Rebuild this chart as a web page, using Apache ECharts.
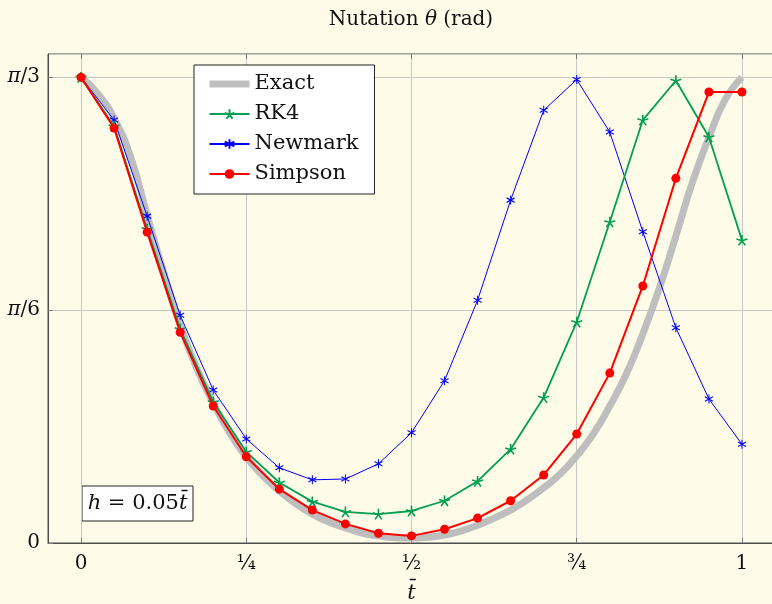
<!DOCTYPE html>
<html>
<head>
<meta charset="utf-8">
<script src="https://cdn.jsdelivr.net/npm/echarts@6/dist/echarts.min.js"></script>
<style>
  html, body { margin: 0; padding: 0; background: #fefbe8; }
  #chart { width: 772px; height: 604px; }
</style>
</head>
<body>
<div id="chart"></div>
<script>
// time steps, h = 0.05
var tSteps = [0, 0.05, 0.1, 0.15, 0.2, 0.25, 0.3, 0.35, 0.4, 0.45, 0.5,
              0.55, 0.6, 0.65, 0.7, 0.75, 0.8, 0.85, 0.9, 0.95, 1];
// exact solution read at finer steps
var tFine = [0, 0.025, 0.05, 0.075, 0.1, 0.125, 0.15, 0.175, 0.2, 0.225, 0.25,
             0.275, 0.3, 0.325, 0.35, 0.375, 0.4, 0.425, 0.45, 0.475, 0.5,
             0.525, 0.55, 0.575, 0.6, 0.625, 0.65, 0.675, 0.7, 0.725, 0.75,
             0.775, 0.8, 0.825, 0.85, 0.875, 0.9, 0.925, 0.95, 0.975, 1];
var exactVals = [1.047, 1.011, 0.955, 0.868, 0.737, 0.608, 0.490, 0.393, 0.315, 0.247, 0.193,
                 0.151, 0.117, 0.088, 0.065, 0.047, 0.034, 0.022, 0.016, 0.012, 0.011,
                 0.013, 0.018, 0.027, 0.040, 0.056, 0.074, 0.097, 0.124, 0.155, 0.196,
                 0.245, 0.308, 0.380, 0.470, 0.573, 0.690, 0.811, 0.912, 0.998, 1.047];
var rk4Vals = [1.047, 0.937, 0.706, 0.481, 0.317, 0.205, 0.136, 0.093, 0.070, 0.065, 0.072,
               0.095, 0.139, 0.211, 0.327, 0.497, 0.722, 0.951, 1.040, 0.913, 0.681];
var newmarkVals = [1.047, 0.951, 0.735, 0.512, 0.344, 0.234, 0.169, 0.142, 0.144, 0.178, 0.248,
                   0.365, 0.546, 0.771, 0.973, 1.042, 0.924, 0.700, 0.484, 0.324, 0.222];
var simpsonVals = [1.047, 0.933, 0.699, 0.474, 0.308, 0.194, 0.121, 0.074, 0.043, 0.022, 0.016,
                   0.031, 0.056, 0.095, 0.153, 0.245, 0.382, 0.578, 0.820, 1.014, 1.014];

var xTickValues = [0, 0.25, 0.5, 0.75, 1];
var xTickLabels = ['0', '¼', '½', '¾', '1'];
var yTickLabels = ['0', '{i|π}/6', '{i|π}/3'];

var FONT = 'DejaVu Serif';

function pairs(xs, ys) {
    return xs.map(function (x, i) { return [x, ys[i]]; });
}

// 5-ray star and 6-ray asterisk drawn as strokes
var starPath = 'path://M0 0L0 -1M0 0L0.951 -0.309M0 0L0.588 0.809M0 0L-0.588 0.809M0 0L-0.951 -0.309';
var asteriskPath = 'path://M0 -1L0 1M-0.866 -0.5L0.866 0.5M-0.866 0.5L0.866 -0.5';

var myChart = echarts.init(document.getElementById('chart'));

option = {
    backgroundColor: '#fefbe8',
    animation: false,
    textStyle: { fontFamily: FONT },
    grid: {
        left: 48,
        top: 54,
        width: 727,
        height: 489,
        outerBoundsMode: 'none',
        containLabel: false,
        show: true,
        borderColor: '#4d4d4d',
        borderWidth: 1,
        backgroundColor: 'transparent'
    },
    legend: {
        orient: 'vertical',
        left: 194,
        top: 65,
        backgroundColor: '#ffffff',
        borderColor: '#222222',
        borderWidth: 1,
        borderRadius: 0,
        padding: [7, 16, 8, 12],
        itemWidth: 40,
        itemHeight: 12,
        itemGap: 6,
        textStyle: { fontFamily: FONT, fontSize: 21, color: '#111', lineHeight: 24 },
        data: [
            { name: 'Exact', itemStyle: { opacity: 0 }, lineStyle: { width: 7, color: '#bebebe' } },
            { name: 'RK4' },
            { name: 'Newmark' },
            { name: 'Simpson' }
        ]
    },
    xAxis: [{
        type: 'value',
        min: -0.05,
        max: 1.05,
        name: 't\u0304',
        nameLocation: 'middle',
        nameGap: 40,
        nameTextStyle: { fontFamily: FONT, fontStyle: 'italic', fontSize: 21, color: '#111' },
        axisLine: { show: true, onZero: false, lineStyle: { color: '#4d4d4d', width: 1 } },
        axisTick: { show: true, inside: true, length: 5, customValues: xTickValues,
                    lineStyle: { color: '#777' } },
        axisLabel: {
            customValues: xTickValues,
            margin: 11,
            fontFamily: FONT,
            fontSize: 20,
            color: '#111',
            formatter: function (v) {
                for (var i = 0; i < xTickValues.length; i++) {
                    if (Math.abs(v - xTickValues[i]) < 1e-6) return xTickLabels[i];
                }
                return '';
            }
        },
        splitLine: { show: true, customValues: xTickValues, lineStyle: { color: '#c9c9c4', width: 1 } }
    }, {
        type: 'value',
        position: 'top',
        min: -0.05,
        max: 1.05,
        axisLine: { show: false, onZero: false },
        axisTick: { show: true, inside: true, length: 5, customValues: xTickValues,
                    lineStyle: { color: '#777' } },
        axisLabel: { show: false },
        splitLine: { show: false }
    }],
    yAxis: {
        type: 'value',
        min: 0,
        max: 1.05 * Math.PI / 3,
        interval: Math.PI / 6,
        axisLine: { show: true, onZero: false, lineStyle: { color: '#4d4d4d', width: 1 } },
        axisTick: { show: true, inside: true, length: 5, lineStyle: { color: '#777' } },
        axisLabel: {
            margin: 8,
            fontFamily: FONT,
            fontSize: 20,
            color: '#111',
            showMaxLabel: false,
            rich: {
                i: { fontFamily: FONT, fontSize: 20, fontStyle: 'italic', color: '#111' }
            },
            formatter: function (v) {
                var k = Math.round(v / (Math.PI / 6));
                if (Math.abs(v - k * Math.PI / 6) < 1e-6 && k < yTickLabels.length) return yTickLabels[k];
                return '';
            }
        },
        splitLine: { show: true, lineStyle: { color: '#c9c9c4', width: 1 } }
    },
    graphic: [{
        type: 'text',
        x: 411,
        y: 20,
        style: {
            text: '{n|Nutation }{th|θ}{n| (rad)}',
            align: 'center',
            verticalAlign: 'middle',
            rich: {
                n: { fontFamily: FONT, fontSize: 20, fill: '#111' },
                th: { fontFamily: FONT, fontSize: 20, fontStyle: 'italic', fill: '#111' }
            }
        }
    }, {
        type: 'group',
        x: 82,
        y: 486,
        children: [{
            type: 'rect',
            shape: { x: 0, y: 0, width: 111, height: 35 },
            style: { fill: '#ffffff', stroke: '#222', lineWidth: 1 }
        }, {
            type: 'text',
            x: 55.5,
            y: 18,
            style: {
                text: '{i|h}{n| = 0.05}{i|t\u0304}',
                align: 'center',
                verticalAlign: 'middle',
                rich: {
                    i: { fontFamily: FONT, fontSize: 21, fontStyle: 'italic', fill: '#111' },
                    n: { fontFamily: FONT, fontSize: 21, fill: '#111' }
                }
            }
        }]
    }],
    series: [{
        name: 'Exact',
        type: 'line',
        smooth: true,
        showSymbol: false,
        symbol: 'none',
        lineStyle: { color: '#bebebe', width: 7 },
        itemStyle: { color: '#bebebe' },
        z: 1,
        data: pairs(tFine, exactVals)
    }, {
        name: 'RK4',
        type: 'line',
        symbol: starPath,
        symbolSize: [11, 10.5],
        lineStyle: { color: '#00a050', width: 1.8 },
        itemStyle: { color: '#00a050', borderColor: '#00a050', borderWidth: 1.6 },
        z: 3,
        data: pairs(tSteps, rk4Vals)
    }, {
        name: 'Newmark',
        type: 'line',
        symbol: asteriskPath,
        symbolSize: [8, 9],
        lineStyle: { color: '#0000ff', width: 1 },
        itemStyle: { color: '#0000ff', borderColor: '#0000ff', borderWidth: 1.1 },
        z: 2,
        data: pairs(tSteps, newmarkVals)
    }, {
        name: 'Simpson',
        type: 'line',
        symbol: 'circle',
        symbolSize: 9,
        lineStyle: { color: '#ff0000', width: 2 },
        itemStyle: { color: '#ff0000', borderWidth: 0 },
        z: 4,
        data: pairs(tSteps, simpsonVals)
    }]
};

myChart.setOption(option);
</script>
</body>
</html>
